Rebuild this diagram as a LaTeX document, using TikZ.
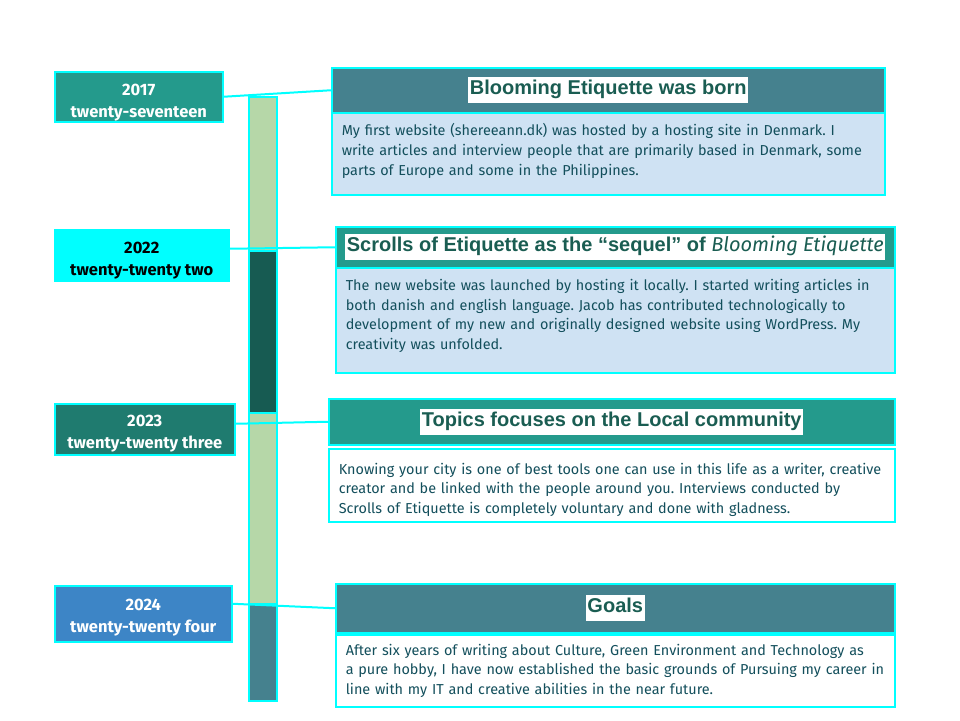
\documentclass[tikz,border=0pt]{standalone}
\usepackage{fontspec}
\setmainfont{Fira Sans}
\newfontfamily\titlefont{Liberation Sans}
\frenchspacing
\definecolor{cyanc}{HTML}{00FFFF}
\definecolor{tealA}{HTML}{249A8C}
\definecolor{tealB}{HTML}{1F7B6F}
\definecolor{steel}{HTML}{45818E}
\definecolor{blueY}{HTML}{3D85C6}
\definecolor{lgreen}{HTML}{B6D7A8}
\definecolor{dgreen}{HTML}{175B52}
\definecolor{lblue}{HTML}{CFE2F3}
\definecolor{bodytext}{HTML}{134F5C}
\definecolor{titletext}{HTML}{1A5D52}
\newcommand\ttl[1]{{\setlength{\fboxsep}{1.5pt}\colorbox{white}{\titlefont\bfseries\fontsize{20}{23}\selectfont\color{titletext}\strut #1}}}
\tikzset{
  yearbox/.style={draw=cyanc, line width=1.5pt, inner sep=0pt, anchor=north west},
  yeartext/.style={inner sep=0pt, align=center, font=\bfseries\fontsize{16.5}{22}\selectfont},
  titlebox/.style={draw=cyanc, line width=1.5pt, inner sep=0pt, anchor=north west},
  bodybox/.style={draw=cyanc, line width=1.5pt, inner sep=0pt, anchor=north west, align=left,
    text=bodytext, font=\fontsize{14.4}{19.7}\selectfont},
  barseg/.style={draw=cyanc, line width=1.5pt, inner sep=0pt, anchor=north west, minimum width=28pt},
  link/.style={draw=cyanc, line width=2pt},
}
\begin{document}
\begin{tikzpicture}[x=1pt,y=-1pt]
\useasboundingbox (0,0) rectangle (960,720);
% timeline bar
\node[barseg, fill=lgreen, minimum height=154pt] (s1) at (248,96) {};
\node[barseg, fill=dgreen, minimum height=162pt] (s2) at (248,250) {};
\node[barseg, fill=lgreen, minimum height=191pt] (s3) at (248,412) {};
\node[barseg, fill=steel, minimum height=97pt] (s4) at (248,603) {};
% year boxes
\node[yearbox, fill=tealA, minimum width=168pt, minimum height=50pt] (y17) at (54,71) {};
\node[yeartext, text=white] (y17t) at ([yshift=-5.5pt]y17.center) {2017\\twenty-seventeen};
\node[yearbox, fill=cyanc, minimum width=174pt, minimum height=51pt] (y22) at (54,229) {};
\node[yeartext, text=black] (y22t) at ([yshift=-5.5pt]y22.center) {2022\\twenty-twenty two};
\node[yearbox, fill=tealB, minimum width=180pt, minimum height=51pt] (y23) at (54,403) {};
\node[yeartext, text=white] (y23t) at ([yshift=-4pt]y23.center) {2023\\twenty-twenty three};
\node[yearbox, fill=blueY, minimum width=177pt, minimum height=56pt] (y24) at (54,585) {};
\node[yeartext, text=white] (y24t) at ([yshift=-3.5pt]y24.center) {2024\\twenty-twenty four};
% event 1
\node[titlebox, fill=steel, minimum width=553pt, minimum height=45pt] (t17) at (331,67) {\ttl{Blooming Etiquette was born}};
\node[bodybox, fill=lblue, minimum width=553pt, minimum height=82pt, text width=533pt] (b17) at (331,112)
  {My first website (shereeann.dk) was hosted by a hosting site in Denmark. I\\
   write articles and interview people that are primarily based in Denmark, some\\
   parts of Europe and some in the Philippines.\rule[-9pt]{0pt}{9pt}};
% event 2
\node[titlebox, fill=tealA, minimum width=559pt, minimum height=41pt] (t22) at (335,226)
  {\ttl{Scrolls of Etiquette as the “sequel” of {\mdseries\fontspec{Fira Sans}\itshape Blooming Etiquette}}};
\node[bodybox, fill=lblue, minimum width=559pt, minimum height=105pt, text width=539pt] (b22) at (335,267)
  {The new website was launched by hosting it locally. I started writing articles in\\
   both danish and english language. Jacob has contributed technologically to\\
   development of my new and originally designed website using WordPress. My\\
   creativity was unfolded.\rule[-12pt]{0pt}{12pt}};
% event 3
\node[titlebox, fill=tealA, minimum width=566pt, minimum height=46pt] (t23) at (328,398) {\ttl{Topics focuses on the Local community}};
\node[bodybox, fill=white, minimum width=566pt, minimum height=73pt, text width=546pt] (b23) at (328,448)
  {\rule{0pt}{20pt}Knowing your city is one of best tools one can use in this life as a writer, creative\\
   creator and be linked with the people around you. Interviews conducted by\\
   Scrolls of Etiquette is completely voluntary and done with gladness.};
% event 4
\node[titlebox, fill=steel, minimum width=559pt, minimum height=49pt] (t24) at (335,583) {\ttl{Goals}};
\node[bodybox, fill=white, minimum width=559pt, minimum height=72pt, text width=539pt] (b24) at (335,634)
  {After six years of writing about Culture, Green Environment and Technology as\\
   a pure hobby, I have now established the basic grounds of Pursuing my career in\\
   line with my IT and creative abilities in the near future.};
% connectors
\draw[link] (y17.east) -- (t17.west);
\draw[link] ([yshift=6.5pt]y22.east) -- (t22.west);
\draw[link] ([yshift=5.5pt]y23.east) -- (t23.west);
\draw[link] ([yshift=10pt]y24.east) -- (t24.west);
\end{tikzpicture}
\end{document}
